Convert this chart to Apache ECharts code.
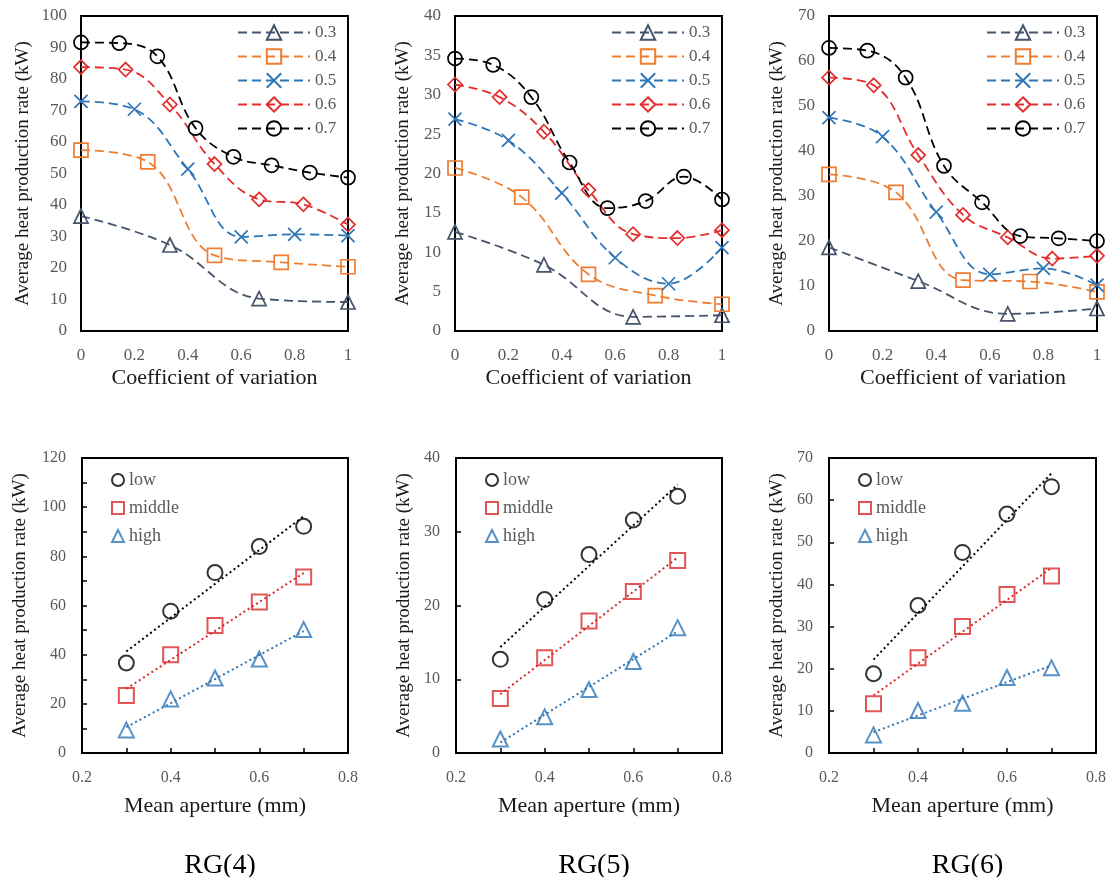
<!DOCTYPE html>
<html>
<head>
<meta charset="utf-8">
<script src="https://cdn.jsdelivr.net/npm/echarts@6/dist/echarts.min.js"></script>
<style>
html, body { margin: 0; padding: 0; background: #fff; }
#container { width: 1111px; height: 877px; }
</style>
</head>
<body>
<div id="container"></div>
<script>
// aperture groups (top row legend)
var apertures = ['0.3', '0.4', '0.5', '0.6', '0.7'];

// coefficient of variation x positions, one array per aperture
var cv03 = [0, 0.333, 0.667, 1];
var cv04 = [0, 0.25, 0.5, 0.75, 1];
var cv05 = [0, 0.2, 0.4, 0.6, 0.8, 1];
var cv06 = [0, 0.167, 0.333, 0.5, 0.667, 0.833, 1];
var cv07 = [0, 0.143, 0.286, 0.429, 0.571, 0.714, 0.857, 1];

// RG(4) top
var rg4_03 = [36.5, 27.3, 10.3, 9.2];
var rg4_04 = [57.4, 53.7, 24.0, 21.8, 20.4];
var rg4_05 = [72.9, 70.4, 51.4, 29.9, 30.7, 30.3];
var rg4_06 = [83.8, 83.0, 71.9, 53.0, 41.8, 40.2, 33.8];
var rg4_07 = [91.6, 91.4, 87.2, 64.4, 55.3, 52.6, 50.3, 48.7];

// RG(5) top
var rg5_03 = [12.6, 8.4, 1.8, 2.0];
var rg5_04 = [20.7, 17.0, 7.2, 4.5, 3.4];
var rg5_05 = [26.9, 24.2, 17.5, 9.3, 6.0, 10.6];
var rg5_06 = [31.3, 29.7, 25.3, 17.9, 12.3, 11.8, 12.8];
var rg5_07 = [34.6, 33.8, 29.7, 21.4, 15.6, 16.5, 19.6, 16.7];

// RG(6) top
var rg6_03 = [18.6, 11.1, 3.8, 5.0];
var rg6_04 = [34.8, 30.8, 11.3, 11.0, 8.7];
var rg6_05 = [47.4, 43.2, 26.4, 12.6, 13.9, 10.2];
var rg6_06 = [56.3, 54.6, 39.1, 25.8, 20.8, 16.1, 16.7];
var rg6_07 = [62.9, 62.3, 56.3, 36.7, 28.6, 21.1, 20.6, 20.0];

// bottom row: mean aperture vs rate
var levels = ['low', 'middle', 'high'];
var apertureX = [0.3, 0.4, 0.5, 0.6, 0.7];
var rg4Low = [36.6, 57.7, 73.4, 84.0, 92.2];
var rg4Mid = [23.4, 40.0, 51.9, 61.4, 71.6];
var rg4High = [9.4, 22.0, 30.5, 38.2, 50.2];
var rg5Low = [12.7, 20.8, 26.9, 31.6, 34.8];
var rg5Mid = [7.4, 12.9, 17.9, 21.9, 26.1];
var rg5High = [1.9, 4.9, 8.6, 12.4, 17.0];
var rg6Low = [18.8, 35.0, 47.6, 56.7, 63.2];
var rg6Mid = [11.7, 22.6, 30.0, 37.6, 42.0];
var rg6High = [4.3, 10.1, 11.8, 17.9, 20.2];

var panelTitles = ['RG(4)', 'RG(5)', 'RG(6)'];

var FONT = 'Liberation Serif';
var GREY = '#595959';
var CROSS = 'path://M0,0L10,10M10,0L0,10';
var apColors = ['#44546A', '#ED7D31', '#2E75B6', '#E32D2D', '#000000'];
var apSymbols = ['triangle', 'rect', CROSS, 'diamond', 'circle'];
var lvColors = ['#000000', '#DA2A2A', '#2E75B6'];
var lvSymbols = ['circle', 'rect', 'triangle'];

var cvX = [cv03, cv04, cv05, cv06, cv07];
var topData = [
    [rg4_03, rg4_04, rg4_05, rg4_06, rg4_07],
    [rg5_03, rg5_04, rg5_05, rg5_06, rg5_07],
    [rg6_03, rg6_04, rg6_05, rg6_06, rg6_07]
];
var bottomData = [
    [rg4Low, rg4Mid, rg4High],
    [rg5Low, rg5Mid, rg5High],
    [rg6Low, rg6Mid, rg6High]
];
var topMax = [100, 40, 70];
var topStep = [10, 5, 10];
var botMax = [120, 40, 70];
var botStep = [20, 10, 10];

// layout [left, top, width, height]
var topGrids = [[81, 16, 267, 315], [455, 16, 267, 315], [829, 16, 268, 315]];
var botGrids = [[82, 458, 266, 295], [456, 458, 266, 295], [829, 458, 267, 295]];
var topNameGap = [48, 42, 42];
var botNameGap = [52, 42, 42];

function pairs(xs, ys) {
    return xs.map(function (x, i) { return [x, ys[i]]; });
}

// Excel style linear trendline over the data range
function trend(xs, ys) {
    var n = xs.length, mx = 0, my = 0, sxy = 0, sxx = 0;
    for (var i = 0; i < n; i++) { mx += xs[i] / n; my += ys[i] / n; }
    for (var i = 0; i < n; i++) {
        sxy += (xs[i] - mx) * (ys[i] - my);
        sxx += (xs[i] - mx) * (xs[i] - mx);
    }
    var b = sxy / sxx, a = my - b * mx;
    var x0 = xs[0], x1 = xs[n - 1];
    return [[x0, a + b * x0], [x1, a + b * x1]];
}

var topLabel = { fontFamily: FONT, fontSize: 17, color: GREY };
var botLabel = { fontFamily: FONT, fontSize: 16, color: GREY };
var nameStyle = { fontFamily: FONT, fontSize: 22, color: '#1a1a1a' };
var yNameStyle = { fontFamily: FONT, fontSize: 19, color: '#1a1a1a' };

var option = { animation: false, grid: [], xAxis: [], yAxis: [], legend: [], series: [], title: [] };

for (var k = 0; k < 3; k++) {
    var g = topGrids[k];
    option.grid.push({ left: g[0], top: g[1], width: g[2], height: g[3], show: true, borderColor: '#000', borderWidth: 2 });
    option.xAxis.push({
        gridIndex: k, type: 'value', min: 0, max: 1, interval: 0.2,
        name: 'Coefficient of variation', nameLocation: 'middle', nameGap: 36, nameTextStyle: nameStyle,
        axisLine: { lineStyle: { color: '#000', width: 2 } }, axisTick: { show: false },
        splitLine: { show: false }, axisLabel: Object.assign({ margin: 16 }, topLabel)
    });
    option.yAxis.push({
        gridIndex: k, type: 'value', min: 0, max: topMax[k], interval: topStep[k],
        name: 'Average heat production rate (kW)', nameLocation: 'middle', nameGap: topNameGap[k], nameTextStyle: yNameStyle,
        axisLine: { lineStyle: { color: '#000', width: 2 } }, axisTick: { show: false },
        splitLine: { show: false }, axisLabel: Object.assign({ margin: 14 }, topLabel)
    });
    option.legend.push({
        left: g[0] + g[2] - 111, top: 24, padding: 0, orient: 'vertical', selectedMode: false,
        itemWidth: 72, itemHeight: 18, itemGap: 7, data: apertures,
        textStyle: { fontFamily: FONT, fontSize: 17, color: GREY }
    });
    for (var j = 0; j < apertures.length; j++) {
        option.series.push({
            type: 'line', name: apertures[j], xAxisIndex: k, yAxisIndex: k,
            data: pairs(cvX[j], topData[k][j]), smooth: 0.4,
            symbol: apSymbols[j], symbolSize: j === 2 ? 13 : 14,
            lineStyle: { color: apColors[j], width: 1.8, type: [9, 5] },
            itemStyle: { color: 'rgba(0,0,0,0)', borderColor: apColors[j], borderWidth: 1.7 }
        });
    }
}

for (var k = 0; k < 3; k++) {
    var g = botGrids[k], idx = k + 3;
    option.grid.push({ left: g[0], top: g[1], width: g[2], height: g[3], show: true, borderColor: '#000', borderWidth: 2 });
    option.xAxis.push({
        gridIndex: idx, type: 'value', min: 0.2, max: 0.8, interval: 0.2,
        name: 'Mean aperture (mm)', nameLocation: 'middle', nameGap: 42, nameTextStyle: nameStyle,
        axisLine: { lineStyle: { color: '#000', width: 2 } },
        axisTick: { inside: true, length: 5, lineStyle: { color: '#000', width: 1.5 } },
        minorTick: { show: true, splitNumber: 2, length: 5, lineStyle: { color: '#000', width: 1.5 } },
        splitLine: { show: false }, axisLabel: Object.assign({ margin: 17 }, botLabel)
    });
    option.yAxis.push({
        gridIndex: idx, type: 'value', min: 0, max: botMax[k], interval: botStep[k],
        name: 'Average heat production rate (kW)', nameLocation: 'middle', nameGap: botNameGap[k], nameTextStyle: yNameStyle,
        axisLine: { lineStyle: { color: '#000', width: 2 } },
        axisTick: { inside: true, length: 5, lineStyle: { color: '#000', width: 1.5 } },
        minorTick: { show: k === 0, splitNumber: 2, length: 5, lineStyle: { color: '#000', width: 1.5 } },
        splitLine: { show: false }, axisLabel: Object.assign({ margin: 16 }, botLabel)
    });
    option.legend.push({
        left: g[0] + 29, top: 471, padding: 0, orient: 'vertical', selectedMode: false,
        itemWidth: 12, itemHeight: 12, itemGap: 10, data: levels,
        textStyle: { fontFamily: FONT, fontSize: 18, color: GREY }
    });
    for (var j = 0; j < levels.length; j++) {
        option.series.push({
            type: 'line', name: levels[j] + ' trend', xAxisIndex: idx, yAxisIndex: idx,
            data: trend(apertureX, bottomData[k][j]), symbol: 'none', silent: true, z: 1,
            lineStyle: { color: lvColors[j], width: 2, type: [2, 3] }
        });
        option.series.push({
            type: 'scatter', name: levels[j], xAxisIndex: idx, yAxisIndex: idx,
            data: pairs(apertureX, bottomData[k][j]), symbol: lvSymbols[j], symbolSize: 15, z: 3,
            itemStyle: { color: 'rgba(0,0,0,0)', borderColor: lvColors[j], borderWidth: 2 }
        });
    }
    option.title.push({
        text: panelTitles[k], left: g[0] + g[2] / 2, top: 847, textAlign: 'center',
        textStyle: { fontFamily: FONT, fontSize: 28, fontWeight: 'normal', color: '#000' }
    });
}

var chart = echarts.init(document.getElementById('container'));
chart.setOption(option);
</script>
</body>
</html>
